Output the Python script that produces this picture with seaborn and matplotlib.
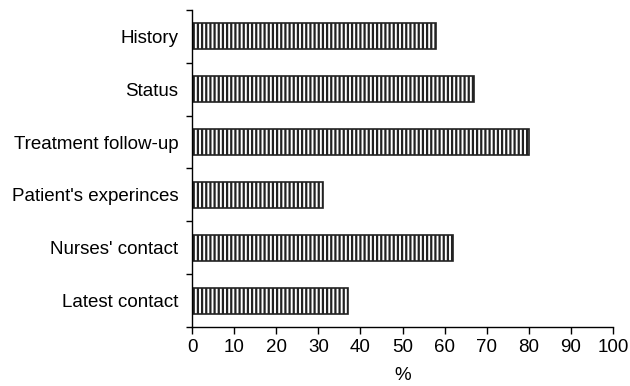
import matplotlib
matplotlib.use('Agg')
import numpy as np
import pandas as pd
import matplotlib.pyplot as plt
import seaborn as sns

# Data (top to bottom)
categories = ['History', 'Status', 'Treatment follow-up',
              "Patient's experinces", "Nurses' contact", 'Latest contact']
percent = [58, 67, 80, 31, 62, 37]
x_ticks = [0, 10, 20, 30, 40, 50, 60, 70, 80, 90, 100]

sns.set_style('ticks')
plt.rcParams['font.family'] = ['Liberation Sans', 'DejaVu Sans']
plt.rcParams['hatch.linewidth'] = 1.6
plt.rcParams['hatch.color'] = '#222222'
plt.rcParams['text.color'] = 'black'
plt.rcParams['axes.labelcolor'] = 'black'
plt.rcParams['xtick.color'] = 'black'
plt.rcParams['ytick.color'] = 'black'

df = pd.DataFrame({'item': categories, 'pct': percent})

fig, ax = plt.subplots(figsize=(6.3, 3.86), dpi=100)
fig.subplots_adjust(left=0.305, right=0.973, top=0.975, bottom=0.152)

sns.barplot(data=df, x='pct', y='item', color='white', width=0.5,
            edgecolor='#222222', linewidth=1.2, saturation=1, ax=ax)
for p in ax.patches:
    p.set_hatch('||||')

sns.despine(ax=ax)
for s in ['left', 'bottom']:
    ax.spines[s].set_linewidth(1.0)
    ax.spines[s].set_color('black')

ax.set_xlim(0, 100)
ax.set_ylim(5.5, -0.5)
ax.set_xticks(x_ticks)
ax.set_yticks(range(len(categories)))
ax.set_yticklabels(categories)
ax.set_yticks(np.arange(-0.5, len(categories), 1), minor=True)
ax.tick_params(axis='y', which='major', length=0, pad=10, labelsize=13.5)
ax.tick_params(axis='y', which='minor', length=4, width=1)
ax.tick_params(axis='x', length=5, width=1, labelsize=13.5)

ax.set_xlabel('%', fontsize=13.5, labelpad=8)
ax.set_ylabel('')

plt.savefig('out.png', dpi=100)
